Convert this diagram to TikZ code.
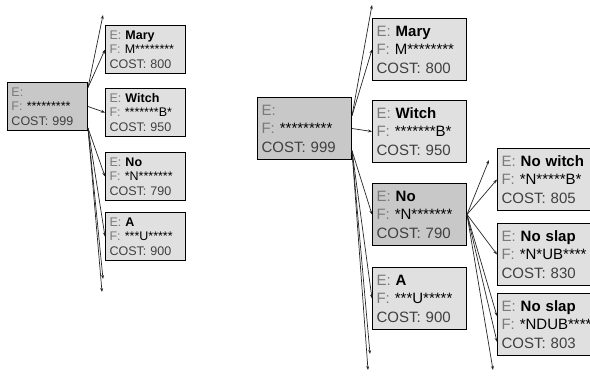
\documentclass[tikz,border=0pt]{standalone}
\usepackage{fontspec}
\setmainfont{Liberation Sans}
\usetikzlibrary{arrows.meta,backgrounds}
\definecolor{opengray}{HTML}{C8C8C8}
\definecolor{leafgray}{HTML}{E0E0E0}
\definecolor{taggray}{HTML}{7A7A7A}
\newcommand{\hyp}[3]{\textcolor{taggray}{E:} \textbf{#1}\\\textcolor{taggray}{F:} #2\\\textcolor{black!75}{COST: #3}}
\tikzset{
  link/.style={-{Stealth[length=4pt,width=3pt]}, line width=0.7pt, draw=black!85},
  hypbox/.style={draw, line width=1pt, fill=leafgray, align=left, anchor=north west, inner xsep=4pt, inner ysep=2pt},
  smallbox/.style={hypbox, font=\fontsize{12.5}{14.5}\selectfont, text width=72pt, minimum height=48pt},
  bigbox/.style={hypbox, font=\fontsize{15}{18.5}\selectfont, text width=86pt, minimum height=62pt},
  openbox/.style={fill=opengray},
  boxshadow/.style={fill=black, shift={(2.5pt,-2.5pt)}}
}
\begin{document}
\begin{tikzpicture}[x=1pt, y=1pt]
  \path[use as bounding box, clip] (0,0) rectangle (590,-378);
  % first expansion
  \node[smallbox, openbox] (lroot) at (7,-82) {\hyp{}{*********}{999}};
  \node[smallbox] (lmary) at (105,-25) {\hyp{Mary}{M********}{800}};
  \node[smallbox] (lwitch) at (105,-88) {\hyp{Witch}{*******B*}{950}};
  \node[smallbox] (lno) at (105,-152) {\hyp{No}{*N*******}{790}};
  \node[smallbox] (la) at (105,-212) {\hyp{A}{***U*****}{900}};
  \coordinate (ltop) at (103,-15);
  \coordinate (lbot1) at (103,-279);
  \coordinate (lbot2) at (102,-292);
  \draw[link] (lroot.25) -- (ltop);
  \draw[link] (lroot.25) -- (lmary.west);
  \draw[link] (lroot.east) -- (lwitch.west);
  \draw[link] (lroot.-28) -- (lno.west);
  \draw[link] (lroot.-28) -- (la.west);
  \draw[link] (lroot.-28) -- (lbot1);
  \draw[link] (lroot.-28) -- (lbot2);
  % second expansion
  \node[bigbox, openbox] (rroot) at (257,-97) {\hyp{}{*********}{999}};
  \node[bigbox] (rmary) at (372,-18) {\hyp{Mary}{M********}{800}};
  \node[bigbox] (rwitch) at (372,-100) {\hyp{Witch}{*******B*}{950}};
  \node[bigbox, openbox] (rno) at (372,-183) {\hyp{No}{*N*******}{790}};
  \node[bigbox] (ra) at (372,-267) {\hyp{A}{***U*****}{900}};
  \node[bigbox] (rnowitch) at (497,-148) {\hyp{No witch}{*N*****B*}{805}};
  \node[bigbox] (rslap) at (497,-223) {\hyp{No slap}{\rlap{*N*UB****}}{830}};
  \node[bigbox] (rslapb) at (497,-293) {\hyp{No slap}{\rlap{*NDUB****}}{803}};
  \coordinate (rtop) at (372,-5);
  \coordinate (rbot1) at (370,-354);
  \coordinate (rbot2) at (368,-370);
  \coordinate (gtop) at (489,-160);
  \coordinate (gbot) at (493,-370);
  \draw[link] (rroot.15) -- (rtop);
  \draw[link] (rroot.15) -- (rmary.west);
  \draw[link] (rroot.east) -- (rwitch.west);
  \draw[link] (rroot.-25) -- (rno.west);
  \draw[link] (rroot.-25) -- (ra.west);
  \draw[link] (rroot.-25) -- (rbot1);
  \draw[link] (rroot.-25) -- (rbot2);
  \draw[link] (rno.east) -- (gtop);
  \draw[link] (rno.east) -- (rnowitch.west);
  \draw[link] (rno.east) -- (rslap.west);
  \draw[link] (rno.east) -- (rslapb.170);
  \draw[link] (rno.east) -- (rslapb.200);
  \draw[link] (rno.east) -- (gbot);
  % shadows behind the boxes
  \begin{scope}[on background layer]
    \foreach \b in {lroot,lmary,lwitch,lno,la,rroot,rmary,rwitch,rno,ra,rnowitch,rslap,rslapb}
      \fill[boxshadow] (\b.north west) rectangle (\b.south east);
  \end{scope}
\end{tikzpicture}
\end{document}
